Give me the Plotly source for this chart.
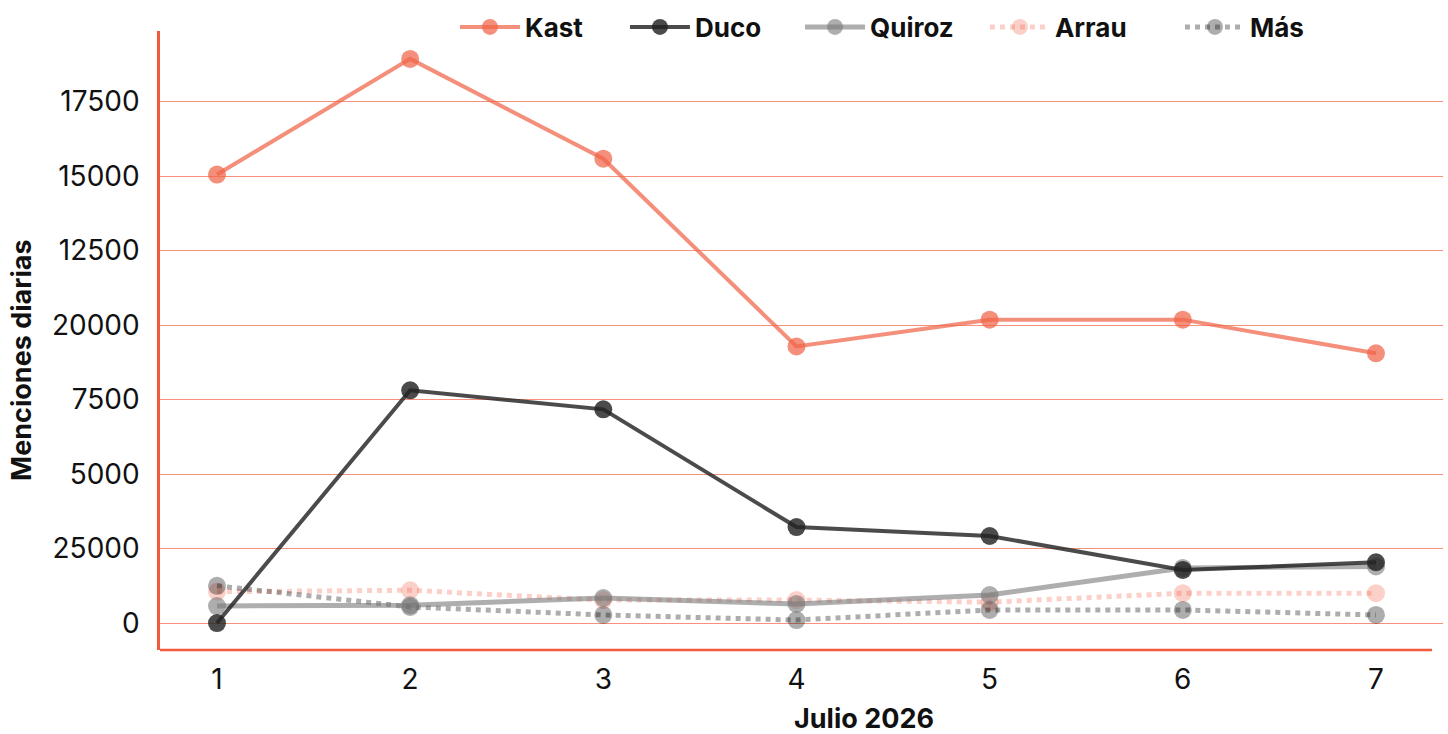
import plotly.graph_objects as go

days = [1, 2, 3, 4, 5, 6, 7]
kast = [15050, 18930, 15580, 9280, 10180, 10180, 9050]
duco = [0, 7810, 7170, 3220, 2920, 1780, 2040]
quiroz = [570, 600, 840, 640, 940, 1850, 1900]
arrau = [1050, 1100, 770, 770, 700, 1000, 1000]
mas = [1250, 540, 270, 100, 440, 440, 270]

ytickvals = [0, 2500, 5000, 7500, 10000, 12500, 15000, 17500]
yticktext = ["0", "25000", "5000", "7500", "20000", "12500", "15000", "17500"]

series = [
    ("Kast", kast, "rgba(240,100,72,0.72)", "solid", 4, "legend", 0.3142),
    ("Duco", duco, "rgba(35,35,35,0.82)", "solid", 4, "legend2", 0.4316),
    ("Quiroz", quiroz, "rgba(120,120,120,0.6)", "solid", 5, "legend3", 0.5525),
    ("Arrau", arrau, "rgba(240,100,72,0.3)", "dot", 5, "legend4", 0.6802),
    ("Más", mas, "rgba(0,0,0,0.32)", "dot", 5, "legend5", 0.8149),
]

fig = go.Figure()
order = [3, 4, 2, 1, 0]
for i in order:
    name, vals, col, dash, w, lg, _ = series[i]
    fig.add_trace(go.Scatter(
        x=days, y=vals, name=name, mode="lines+markers",
        line=dict(color=col, width=w, dash=dash),
        marker=dict(color=col, size=18),
        legend=lg,
    ))

legfont = dict(family="Inter", size=26, color="#111111", weight=700)
leg_common = dict(orientation="h", yref="container", y=0.9632, yanchor="middle",
                  xref="container", xanchor="left", font=legfont,
                  itemwidth=60, bgcolor="rgba(0,0,0,0)", tracegroupgap=0)
layout_legs = {}
for name, vals, col, dash, w, lg, lx in series:
    layout_legs[lg] = dict(leg_common, x=lx)

titlefont = dict(family="Inter", size=27, weight=700, color="#111111")

fig.update_layout(
    width=1448, height=734,
    margin=dict(l=160, r=5, t=31, b=84, autoexpand=False),
    paper_bgcolor="white", plot_bgcolor="white",
    font=dict(family="Inter", color="#111111"),
    showlegend=True,
    **layout_legs,
    xaxis=dict(
        range=[0.705, 7.347],
        tickvals=days, ticktext=[str(d) for d in days],
        tickfont=dict(family="Inter", size=28, color="#111111"),
        showgrid=False, zeroline=False, showline=False,
        ticks="", ticklen=0, ticklabelstandoff=10, automargin=False,
    ),
    yaxis=dict(
        range=[-905, 19866],
        tickvals=ytickvals, ticktext=yticktext,
        tickfont=dict(family="Inter", size=28, color="#111111"),
        showgrid=True, gridcolor="rgba(240,110,80,0.75)", gridwidth=1,
        zeroline=False, automargin=False,
        showline=True, linecolor="#f25a3c", linewidth=2.5,
        ticks="", ticklabelstandoff=12,
    ),
    annotations=[
        dict(text="Julio 2026", font=titlefont, xref="paper", yref="paper",
             x=0.5487, y=-0.1099, xanchor="center", yanchor="middle", showarrow=False),
        dict(text="Menciones diarias", font=titlefont, xref="paper", yref="paper",
             x=-0.1076, y=0.4685, xanchor="center", yanchor="middle", textangle=-90, showarrow=False),
    ],
    shapes=[dict(type="line", xref="x", yref="paper", x0=0.705, x1=7.29, y0=0, y1=0,
                 line=dict(color="#f25a3c", width=2.5), layer="above")],
)

fig.write_html("out.html", config={"displayModeBar": False},
               post_script="document.body.style.margin='0';document.body.style.overflow='hidden';")
